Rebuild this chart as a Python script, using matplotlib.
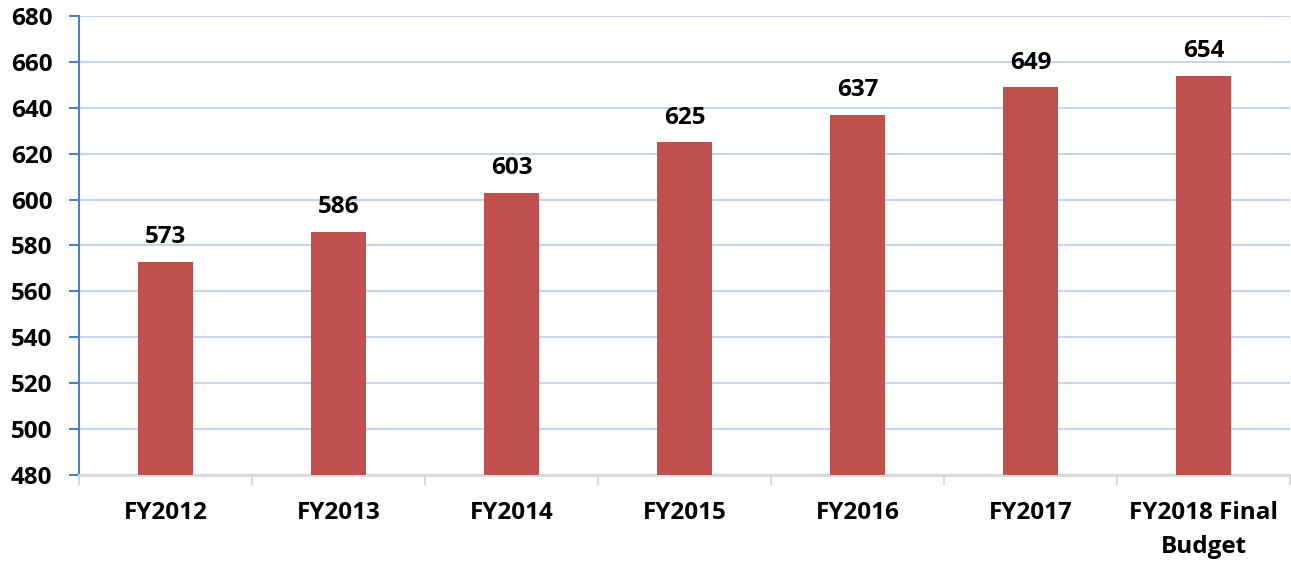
import matplotlib.pyplot as plt

categories = ['FY2012', 'FY2013', 'FY2014', 'FY2015', 'FY2016', 'FY2017', 'FY2018 Final\nBudget']
values = [573, 586, 603, 625, 637, 649, 654]
yticks = [480, 500, 520, 540, 560, 580, 600, 620, 640, 660, 680]

plt.rcParams['font.family'] = ['Open Sans', 'DejaVu Sans']
plt.rcParams['font.weight'] = 'bold'

fig = plt.figure(figsize=(12.91, 5.65), dpi=100)
ax = fig.add_axes([0.0612, 0.1593, 0.938, 0.8124])

x = list(range(len(categories)))
bars = ax.bar(x, values, width=0.32, color='#C0504D', zorder=3)

for xi, v in zip(x, values):
    ax.annotate(str(v), (xi, v), xytext=(0, 9), textcoords='offset points',
                ha='center', va='bottom', fontsize=17.5, fontweight='bold')

ax.set_ylim(480, 680)
ax.set_yticks(yticks)
ax.set_xlim(-0.5, len(categories) - 0.5)
ax.set_xticks(x)
ax.set_xticklabels(categories, fontsize=17.5, fontweight='bold', linespacing=1.55)
ax.set_xticks([i - 0.5 for i in range(len(categories) + 1)], minor=True)
ax.tick_params(axis='x', which='major', length=0, pad=19)
ax.tick_params(axis='x', which='minor', length=7, color='#D9D9D9', width=1.5, direction='out')
ax.tick_params(axis='y', labelsize=17.5, length=7, color='#4F81BD', width=1.5, pad=12)

ax.grid(axis='y', color='#C6D5EC', linewidth=1.5, zorder=0)
ax.set_axisbelow(True)

for s in ['top', 'right']:
    ax.spines[s].set_visible(False)
ax.spines['left'].set_color('#4F81BD')
ax.spines['left'].set_linewidth(1.5)
ax.spines['bottom'].set_color('#D9D9D9')
ax.spines['bottom'].set_linewidth(2)

fig.savefig('out.png', dpi=100)
